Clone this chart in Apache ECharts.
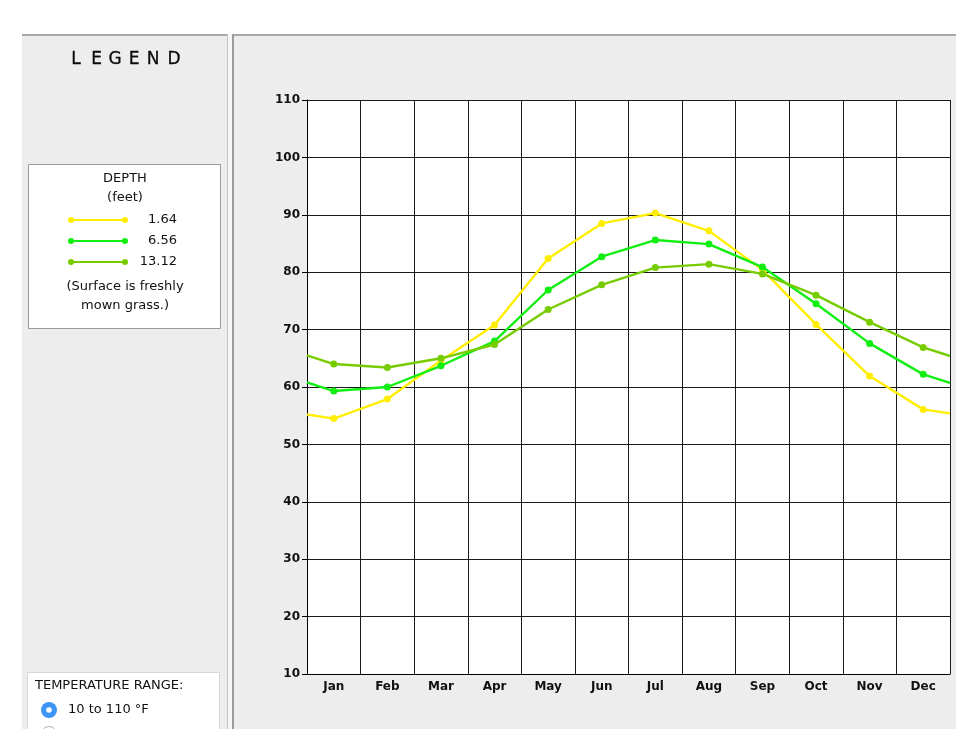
<!DOCTYPE html>
<html>
<head>
<meta charset="utf-8">
<script src="https://cdn.jsdelivr.net/npm/echarts@6/dist/echarts.min.js"></script>
<style>
html,body{margin:0;padding:0;background:#fff;}
#chart{width:956px;height:729px;}
</style>
</head>
<body>
<div id="chart"></div>
<script>
// ---- data ----
var months = ['Jan','Feb','Mar','Apr','May','Jun','Jul','Aug','Sep','Oct','Nov','Dec'];
var yTicks = [10,20,30,40,50,60,70,80,90,100,110];
var seriesNames = ['1.64','6.56','13.12'];
var seriesColors = ['#ffee00','#11ee11','#77cc00'];
var depth164  = [54.5, 57.9, 64.6, 70.8, 82.4, 88.5, 90.3, 87.2, 80.4, 70.9, 61.9, 56.1];
var depth656  = [59.3, 60.0, 63.7, 68.0, 76.9, 82.7, 85.6, 84.9, 80.9, 74.5, 67.6, 62.2];
var depth1312 = [64.0, 63.4, 65.0, 67.4, 73.5, 77.8, 80.8, 81.4, 79.7, 76.0, 71.3, 66.9];
// values where each line meets the left (start of Jan) and right (end of Dec) plot edges
var edgeStart = [55.2, 60.8, 65.5];
var edgeEnd   = [55.4, 60.7, 65.4];
var allSeries = [depth164, depth656, depth1312];

function buildData(vals, s, e) {
  var d = [{value: [0, s], symbol: 'none'}];
  for (var i = 0; i < vals.length; i++) d.push({value: [i + 0.5, vals[i]]});
  d.push({value: [months.length, e], symbol: 'none'});
  return d;
}

var FONT = 'DejaVu Sans';
var series = allSeries.map(function (vals, k) {
  return {
    name: seriesNames[k],
    type: 'line',
    xAxisIndex: 0,
    yAxisIndex: 0,
    data: buildData(vals, edgeStart[k], edgeEnd[k]),
    symbol: 'circle',
    symbolSize: 7,
    showSymbol: true,
    lineStyle: {color: seriesColors[k], width: 2.4},
    itemStyle: {color: seriesColors[k]},
    emphasis: {disabled: true},
    animation: false,
    z: 3 + k
  };
});

var graphics = [
  {type: 'rect', shape: {x: 22, y: 35, width: 205, height: 694}, style: {fill: '#ededed'}, z: -10},
  {type: 'rect', shape: {x: 234, y: 35, width: 722, height: 694}, style: {fill: '#ededed'}, z: -10},
  {type: 'rect', shape: {x: 22, y: 34, width: 934, height: 2}, style: {fill: '#a8a8a8'}, z: -9},
  {type: 'rect', shape: {x: 227, y: 34, width: 1, height: 695}, style: {fill: '#c4c4c4'}, z: -9},
  {type: 'rect', shape: {x: 228, y: 34, width: 4, height: 695}, style: {fill: '#f7f7f7'}, z: -9},
  {type: 'rect', shape: {x: 232, y: 34, width: 2, height: 695}, style: {fill: '#9c9c9c'}, z: -9}
];
// LEGEND heading (letter-spaced)
var legendLetters = ['L','E','G','E','N','D'];
var letterX = [76, 96.5, 115, 134, 153, 174];
legendLetters.forEach(function (ch, i) {
  graphics.push({type: 'text', x: letterX[i], y: 59.5, z: 10,
    style: {text: ch, font: '17px ' + FONT, fill: '#0a0a0a', align: 'center', verticalAlign: 'middle',
            stroke: '#0a0a0a', lineWidth: 0.3}});
});
// depth legend box
graphics.push({type: 'rect', shape: {x: 28.5, y: 164.5, width: 192, height: 164}, style: {fill: '#fff', stroke: '#9a9a9a', lineWidth: 1}, z: 5});
graphics.push({type: 'text', x: 125, y: 178.5, z: 10, style: {text: 'DEPTH', font: '13px ' + FONT, fill: '#111', align: 'center', verticalAlign: 'middle'}});
graphics.push({type: 'text', x: 125, y: 197.5, z: 10, style: {text: '(feet)', font: '13px ' + FONT, fill: '#111', align: 'center', verticalAlign: 'middle'}});
var rowY = [220, 241, 262];
seriesNames.forEach(function (nm, k) {
  var y = rowY[k];
  graphics.push({type: 'line', shape: {x1: 71, y1: y, x2: 125, y2: y}, style: {stroke: seriesColors[k], lineWidth: 2}, z: 10});
  graphics.push({type: 'circle', shape: {cx: 71, cy: y, r: 3}, style: {fill: seriesColors[k]}, z: 11});
  graphics.push({type: 'circle', shape: {cx: 125, cy: y, r: 3}, style: {fill: seriesColors[k]}, z: 11});
  graphics.push({type: 'text', x: 177, y: y, z: 10, style: {text: nm, font: '13px ' + FONT, fill: '#111', align: 'right', verticalAlign: 'middle'}});
});
graphics.push({type: 'text', x: 125, y: 286.5, z: 10, style: {text: '(Surface is freshly', font: '13px ' + FONT, fill: '#111', align: 'center', verticalAlign: 'middle'}});
graphics.push({type: 'text', x: 125, y: 305.5, z: 10, style: {text: 'mown grass.)', font: '13px ' + FONT, fill: '#111', align: 'center', verticalAlign: 'middle'}});
// temperature range box
graphics.push({type: 'rect', shape: {x: 27.5, y: 672.5, width: 192, height: 70}, style: {fill: '#fff', stroke: '#d6d6d6', lineWidth: 1}, z: 5});
graphics.push({type: 'text', x: 35, y: 686, z: 10, style: {text: 'TEMPERATURE RANGE:', font: '13px ' + FONT, fill: '#111', align: 'left', verticalAlign: 'middle'}});
graphics.push({type: 'circle', shape: {cx: 49, cy: 710, r: 8}, style: {fill: '#3d95f5'}, z: 10});
graphics.push({type: 'circle', shape: {cx: 49, cy: 710, r: 2.8}, style: {fill: '#fff'}, z: 11});
graphics.push({type: 'text', x: 68, y: 710, z: 10, style: {text: '10 to 110 °F', font: '13px ' + FONT, fill: '#111', align: 'left', verticalAlign: 'middle'}});
graphics.push({type: 'circle', shape: {cx: 49, cy: 734, r: 7.5}, style: {fill: '#fff', stroke: '#b0b0b0', lineWidth: 1}, z: 10});

var chart = echarts.init(document.getElementById('chart'), null, {renderer: 'canvas'});
chart.setOption({
  backgroundColor: '#fff',
  animation: false,
  graphic: graphics,
  grid: {left: 307, top: 100, right: 6, bottom: 55, show: true, backgroundColor: '#fff', borderWidth: 0, z: 1},
  xAxis: [
    {
      type: 'value', min: 0, max: months.length, interval: 1,
      axisLine: {show: true, onZero: false, lineStyle: {color: '#000', width: 1}},
      axisTick: {show: false},
      axisLabel: {show: false},
      splitLine: {show: true, lineStyle: {color: '#1a1a1a', width: 1}},
      z: 2
    },
    {
      type: 'category', data: months, boundaryGap: true, position: 'bottom',
      axisLine: {show: false}, axisTick: {show: false}, splitLine: {show: false},
      axisLabel: {fontFamily: FONT, fontWeight: 'bold', fontSize: 12, color: '#111', margin: 7}
    }
  ],
  yAxis: {
    type: 'value', min: yTicks[0], max: yTicks[yTicks.length - 1], interval: 10,
    axisLine: {show: true, lineStyle: {color: '#000', width: 1}},
    axisTick: {show: true, length: 5, lineStyle: {color: '#000'}},
    axisLabel: {fontFamily: FONT, fontWeight: 'bold', fontSize: 12, color: '#111', margin: 7, padding: [7, 0, 0, 0]},
    splitLine: {show: true, lineStyle: {color: '#1a1a1a', width: 1}},
    z: 2
  },
  series: series
});
</script>
</body>
</html>
